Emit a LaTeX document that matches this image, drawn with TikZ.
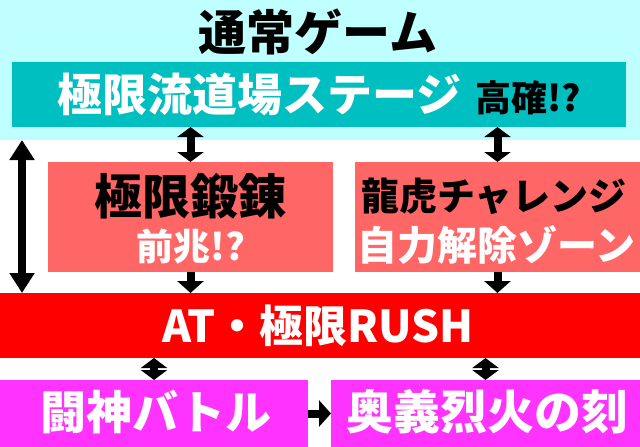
\documentclass[tikz,border=0pt]{standalone}
\usepackage{fontspec}
\setmainfont{Noto Sans CJK JP}
\usetikzlibrary{arrows.meta}
\definecolor{skyb}{HTML}{C0FFFF}
\definecolor{tealb}{HTML}{00BFC0}
\definecolor{pinkb}{HTML}{FF6666}
\definecolor{redb}{HTML}{FF0000}
\definecolor{magb}{HTML}{FF33FF}
\tikzset{
  box/.style={draw=none,inner sep=0pt,outer sep=0pt,anchor=north west},
  big/.style={font=\bfseries\fontsize{44}{44}\selectfont},
  dbl/.style={line width=8pt,{Triangle[length=10pt,width=26pt]}-{Triangle[length=10pt,width=26pt]}},
  tall/.style={line width=8pt,{Triangle[length=20pt,width=24pt]}-{Triangle[length=20pt,width=24pt]}},
  one/.style={line width=8pt,-{Triangle[length=12pt,width=26pt]}},
}
\begin{document}
\begin{tikzpicture}[x=1pt,y=-1pt]
\useasboundingbox (0,0) rectangle (640,447);
\fill[white] (0,0) rectangle (640,447);
\node[box,fill=skyb,minimum width=640pt,minimum height=140pt] (band) at (0,0) {};
\node[font=\bfseries\fontsize{48}{48}\selectfont,text=black] (title) at (318,32) {通常ゲーム};
\node[box,fill=tealb,minimum width=614pt,minimum height=65pt] (teal) at (12,62) {};
\node[font=\bfseries\fontsize{45}{45}\selectfont,text=white,anchor=west] (tealtxt) at (54,94) {極限流道場ステージ};
\node[font=\bfseries\fontsize{36}{36}\selectfont,text=black,anchor=west] (kaku) at (472,98) {高確!?};
\node[box,fill=pinkb,minimum width=285pt,minimum height=110pt] (lp) at (48,162) {};
\node[box,fill=pinkb,minimum width=285pt,minimum height=110pt] (rp) at (355,162) {};
\node[font=\bfseries\fontsize{48}{48}\selectfont,text=black] (lt1) at (190,196) {極限鍛錬};
\node[font=\bfseries\fontsize{37}{37}\selectfont,text=white] (lt2) at (191,246) {前兆!?};
\node[font=\bfseries\fontsize{38}{38}\selectfont,text=black] (rt1) at (494,196) {龍虎チャレンジ};
\node[font=\bfseries\fontsize{40}{40}\selectfont,text=white] (rt2) at (496,245) {自力解除ゾーン};
\node[box,fill=redb,minimum width=640pt,minimum height=65pt] (red) at (0,293) {};
\node[big,text=white] (rtxt) at (318,326) {AT・極限RUSH};
\node[box,fill=magb,minimum width=308pt,minimum height=67pt] (ml) at (0,380) {};
\node[box,fill=magb,minimum width=309pt,minimum height=67pt] (mr) at (331,380) {};
\node[font=\bfseries\fontsize{46}{46}\selectfont,text=white] (mlt) at (156,412) {闘神バトル};
\node[font=\bfseries\fontsize{47}{47}\selectfont,text=white] (mrt) at (487,412) {奥義烈火の刻};
\coordinate (bx) at (22,0);
\draw[tall] (band.south -| bx) -- (red.north -| bx);
\draw[dbl] (teal.south -| lp.north) -- (lp.north);
\draw[dbl] (teal.south -| rp.north) -- (rp.north);
\draw[one] (lp.south) -- (red.north -| lp.south);
\draw[one] (rp.south) -- (red.north -| rp.south);
\draw[dbl] (red.south -| ml.north) -- (ml.north);
\draw[dbl] (red.south -| mr.north) -- (mr.north);
\draw[one] (ml.east) -- (mr.west);
\end{tikzpicture}
\end{document}
